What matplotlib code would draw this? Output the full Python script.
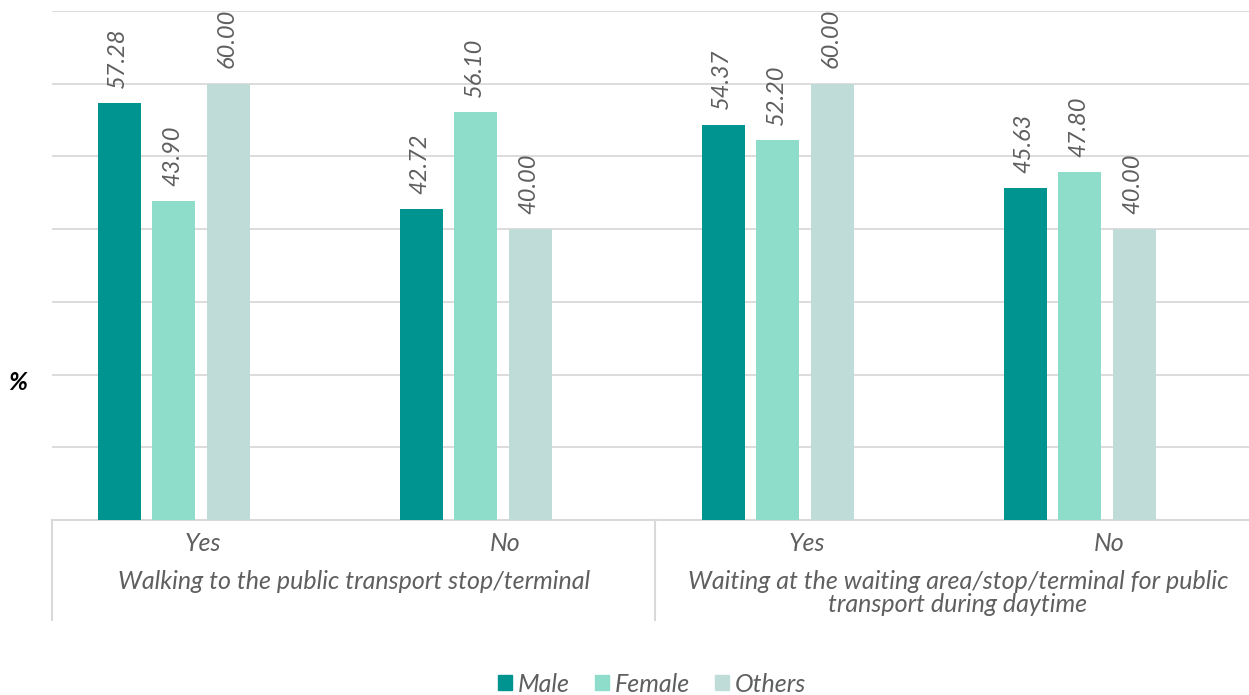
import matplotlib.pyplot as plt
import numpy as np
from matplotlib.lines import Line2D
from matplotlib.patches import Patch

answers = ['Yes', 'No', 'Yes', 'No']
situations = ['Walking to the public transport stop/terminal',
              'Waiting at the waiting area/stop/terminal for public\ntransport during daytime']
genders = ['Male', 'Female', 'Others']
male = [57.28, 42.72, 54.37, 45.63]
female = [43.90, 56.10, 52.20, 47.80]
others = [60.00, 40.00, 60.00, 40.00]

colors = ['#009490', '#8EDCCA', '#C0DCD8']
text_color = '#5F5F5F'
grid_color = '#D9D9D9'
font = ['Lato', 'DejaVu Sans']

plt.rcParams['font.family'] = font

fig = plt.figure(figsize=(12.49, 6.95), dpi=100)
W, H = 1249, 695
ax = fig.add_axes([52 / W, (H - 520) / H, 1208 / W, 509 / H])

x = np.arange(len(answers))
slot = 0.1805
width = 0.142
for i, (vals, name, c) in enumerate(zip([male, female, others], genders, colors)):
    pos = x + (i - 1.5) * slot - 0.007
    ax.bar(pos, vals, width=width, color=c, label=name, zorder=3)
    for px, v in zip(pos, vals):
        ax.text(px - 0.004, v + 2.1, f'{v:.2f}', rotation=90, ha='center', va='bottom',
                fontsize=17, style='italic', color=text_color, zorder=4)

ax.set_xlim(-0.5, 3.5)
ax.set_ylim(0, 70)
ax.set_yticks(np.arange(10, 71, 10))
ax.yaxis.grid(True, color=grid_color, linewidth=1.3)
ax.set_axisbelow(True)
ax.tick_params(left=False, bottom=False, labelleft=False, labelbottom=False)
for s in ['top', 'right', 'left']:
    ax.spines[s].set_visible(False)
ax.spines['bottom'].set_color(grid_color)
ax.spines['bottom'].set_linewidth(1.5)

# answer labels and situation labels below the axis
for xi, lab in zip(x, answers):
    ax.text(xi, -3.2, lab, ha='center', va='center', fontsize=18, style='italic',
            color=text_color, clip_on=False)
for k, lab in enumerate(situations):
    ax.text(0.5 + 2 * k, -6.9, lab, ha='center', va='top', fontsize=18, style='italic',
            color=text_color, linespacing=1.0, clip_on=False)

# group separators
for px in [52, 655]:
    fig.add_artist(Line2D([px / W, px / W], [(H - 520) / H, (H - 620) / H],
                          color=grid_color, linewidth=1.5))

fig.text(18 / W, (H - 383) / H, '%', ha='center', va='center', fontsize=18,
         style='italic', fontweight='bold', color='black')

handles = [Patch(color=c) for c in colors]
fig.legend(handles, genders, loc='center', bbox_to_anchor=(652 / W, (H - 684) / H),
           ncol=3, frameon=False, handlelength=0.55, handleheight=0.55,
           handletextpad=0.25, columnspacing=1.0, labelcolor=text_color,
           prop={'style': 'italic', 'size': 18})

fig.savefig('out.png', dpi=100)
